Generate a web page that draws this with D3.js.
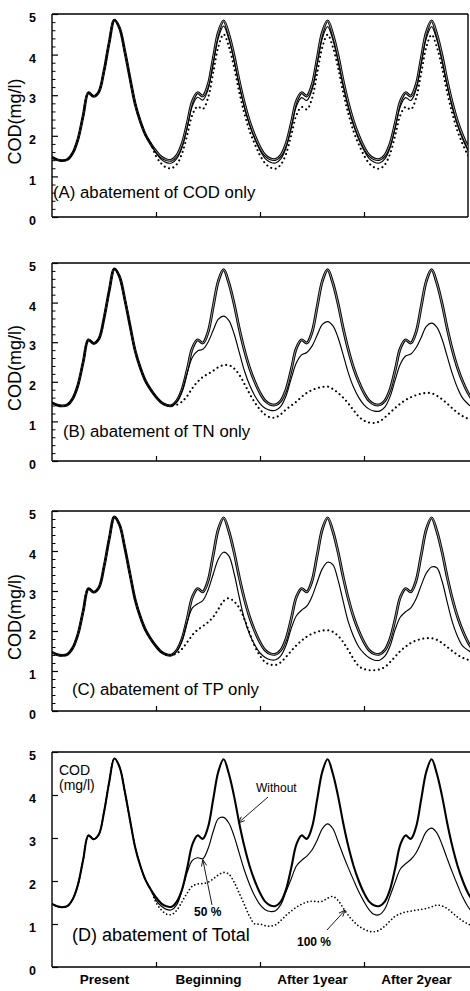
<!DOCTYPE html>
<html>
<head>
<meta charset="utf-8">
<script src="https://cdn.jsdelivr.net/npm/d3@7"></script>
<style>
  body { margin: 0; background: #fff; }
  svg { display: block; }
  text { font-family: Arial, "Liberation Sans", Helvetica, sans-serif; fill: #000; }
</style>
</head>
<body>
<svg id="chart" width="470" height="991"></svg>
<script>
// ---- data -------------------------------------------------------------
// Samples every 0.05 year, from the present year through two years after
// the start of abatement (COD in mg/l).
const periods = ["Present", "Beginning", "After 1year", "After 2year"];
const yTicks = [0, 1, 2, 3, 4, 5];
const step = 0.05;

// COD without abatement (same in every panel)
const without = [
  1.47,1.41,1.39,1.42,1.58,1.92,2.50,3.06,2.97,3.08,3.60,4.30,4.85,4.65,4.08,3.42,2.78,2.35,2.02,1.80,
  1.62,1.48,1.41,1.40,1.52,1.80,2.30,2.85,3.06,2.98,3.25,3.90,4.55,4.83,4.50,3.98,3.35,2.80,2.35,2.00,
  1.72,1.52,1.43,1.42,1.52,1.80,2.30,2.85,3.06,2.98,3.25,3.90,4.55,4.83,4.50,3.98,3.35,2.80,2.35,2.00,
  1.72,1.52,1.43,1.42,1.52,1.80,2.30,2.85,3.06,2.98,3.25,3.90,4.55,4.83,4.50,3.98,3.35,2.80,2.35,2.00,
  1.72,1.52
];
// During the present year every scenario follows the unabated curve.
const presentYear = without.slice(0, 20);

// (A) abatement of COD only
const codHalf = presentYear.concat([
  1.58,1.42,1.34,1.33,1.44,1.71,2.20,2.74,2.95,2.88,3.14,3.78,4.42,4.70,4.38,3.86,3.24,2.70,2.26,1.92,
  1.64,1.44,1.35,1.33,1.43,1.70,2.19,2.73,2.94,2.87,3.13,3.77,4.41,4.69,4.37,3.85,3.23,2.69,2.25,1.91,
  1.64,1.44,1.35,1.33,1.43,1.70,2.19,2.73,2.94,2.87,3.13,3.77,4.41,4.69,4.37,3.85,3.23,2.69,2.25,1.91,
  1.64,1.44
]);
const codFull = presentYear.concat([
  1.50,1.32,1.22,1.20,1.30,1.56,2.02,2.52,2.72,2.66,2.93,3.56,4.20,4.50,4.20,3.70,3.08,2.55,2.12,1.80,
  1.52,1.32,1.22,1.19,1.29,1.55,2.01,2.51,2.71,2.65,2.92,3.55,4.19,4.49,4.19,3.69,3.07,2.54,2.11,1.79,
  1.52,1.32,1.22,1.19,1.29,1.55,2.01,2.51,2.71,2.65,2.92,3.55,4.19,4.49,4.19,3.69,3.07,2.54,2.11,1.79,
  1.52,1.32
]);

// (B) abatement of TN only
const tnHalf = presentYear.concat([
  1.62,1.48,1.41,1.40,1.50,1.76,2.22,2.62,2.78,2.82,3.00,3.30,3.58,3.66,3.55,3.22,2.75,2.28,1.92,1.65,
  1.45,1.33,1.28,1.28,1.38,1.64,2.08,2.48,2.68,2.74,2.90,3.18,3.45,3.52,3.42,3.12,2.68,2.22,1.86,1.60,
  1.42,1.31,1.26,1.26,1.36,1.62,2.05,2.45,2.65,2.70,2.86,3.12,3.40,3.48,3.38,3.08,2.64,2.20,1.84,1.58,
  1.44,1.34
]);
const tnFull = presentYear.concat([
  1.62,1.48,1.41,1.40,1.42,1.50,1.64,1.84,2.00,2.12,2.20,2.28,2.37,2.42,2.42,2.34,2.18,1.95,1.70,1.48,
  1.30,1.17,1.10,1.10,1.18,1.30,1.40,1.50,1.62,1.72,1.79,1.84,1.87,1.88,1.82,1.72,1.60,1.45,1.28,1.12,
  1.02,0.97,0.96,1.00,1.10,1.22,1.34,1.45,1.54,1.61,1.66,1.70,1.72,1.71,1.65,1.56,1.45,1.33,1.22,1.13,
  1.07,1.03
]);

// (C) abatement of TP only
const tpHalf = presentYear.concat([
  1.62,1.48,1.41,1.40,1.50,1.76,2.22,2.58,2.68,2.76,3.02,3.42,3.80,3.97,3.88,3.45,2.85,2.30,1.92,1.65,
  1.45,1.34,1.28,1.28,1.38,1.64,2.06,2.38,2.52,2.62,2.86,3.22,3.56,3.72,3.66,3.28,2.74,2.22,1.86,1.60,
  1.44,1.33,1.27,1.27,1.37,1.62,2.04,2.35,2.48,2.58,2.80,3.14,3.45,3.60,3.58,3.25,2.72,2.22,1.86,1.62,
  1.52,1.44
]);
const tpFull = presentYear.concat([
  1.62,1.48,1.41,1.40,1.44,1.55,1.72,1.90,2.03,2.12,2.22,2.35,2.55,2.75,2.82,2.74,2.58,2.30,1.95,1.62,
  1.38,1.22,1.16,1.15,1.22,1.35,1.50,1.64,1.76,1.86,1.93,1.98,2.01,2.02,1.98,1.88,1.72,1.52,1.30,1.12,
  1.05,1.02,1.02,1.04,1.10,1.22,1.36,1.50,1.61,1.70,1.76,1.80,1.82,1.82,1.78,1.70,1.60,1.50,1.40,1.33,
  1.28,1.24
]);

// (D) abatement of Total
const totHalf = presentYear.concat([
  1.55,1.42,1.34,1.33,1.45,1.78,2.20,2.48,2.54,2.52,2.75,3.15,3.45,3.48,3.35,3.05,2.65,2.25,1.92,1.65,
  1.45,1.33,1.29,1.31,1.45,1.75,2.05,2.35,2.48,2.58,2.72,2.95,3.22,3.33,3.22,2.92,2.60,2.30,2.02,1.75,
  1.52,1.33,1.22,1.22,1.35,1.65,1.98,2.28,2.40,2.50,2.65,2.90,3.15,3.23,3.12,2.85,2.52,2.20,1.90,1.62,
  1.40,1.25
]);
const totFull = presentYear.concat([
  1.50,1.33,1.23,1.22,1.32,1.52,1.72,1.88,1.93,1.94,1.97,2.05,2.14,2.20,2.16,1.98,1.72,1.45,1.18,1.00,
  1.00,0.96,0.95,0.98,1.08,1.20,1.30,1.39,1.46,1.51,1.53,1.52,1.53,1.60,1.64,1.55,1.37,1.20,1.06,0.95,
  0.88,0.83,0.82,0.86,0.95,1.07,1.18,1.24,1.28,1.30,1.32,1.34,1.36,1.40,1.44,1.42,1.36,1.26,1.16,1.07,
  1.00,0.95
]);

// ---- layout -----------------------------------------------------------
const panels = [
  { top: 14,  bottom: 217, title: "(A) abatement of COD only", tx: 53, ty: 198, fs: 16.8, half: codHalf, full: codFull, minor: true,  right: 468, hollow: true },
  { top: 263, bottom: 461, title: "(B) abatement of TN only",  tx: 63, ty: 437, fs: 16.8, half: tnHalf,  full: tnFull,  minor: true,  right: 472, hollow: true },
  { top: 511, bottom: 711, title: "(C) abatement of TP only",  tx: 72, ty: 695, fs: 16.8, half: tpHalf,  full: tpFull,  minor: true,  right: 472, hollow: true },
  { top: 752, bottom: 967, title: "(D) abatement of Total",    tx: 72, ty: 941, fs: 18,   half: totHalf, full: totFull, minor: false, right: 472, hollow: false }
];

const svg = d3.select("#chart");
const x = d3.scaleLinear().domain([0, 4]).range([52, 468]);
const tAt = i => i * step;

panels.forEach((p, pi) => {
  const y = d3.scaleLinear().domain([0, 5]).range([p.bottom, p.top]);
  const g = svg.append("g");

  const clipId = "plot-clip-" + pi;
  svg.append("clipPath").attr("id", clipId)
    .append("rect")
    .attr("x", 52).attr("y", p.top - 12)
    .attr("width", p.right - 52).attr("height", p.bottom - p.top + 12);

  // frame
  const frame = g.append("g").attr("stroke", "#000").attr("stroke-width", 1.4);
  frame.append("line").attr("x1", 52).attr("x2", p.right).attr("y1", p.top).attr("y2", p.top);
  frame.append("line").attr("x1", 52).attr("x2", p.right).attr("y1", p.bottom).attr("y2", p.bottom);
  frame.append("line").attr("x1", 52).attr("x2", 52).attr("y1", p.top).attr("y2", p.bottom);
  if (p.right < 470) frame.append("line").attr("x1", p.right).attr("x2", p.right).attr("y1", p.top).attr("y2", p.bottom);

  // y axis: inward ticks, bold labels
  const yAxis = g.append("g").attr("transform", "translate(52,0)")
    .call(d3.axisLeft(y).tickValues(yTicks).tickSize(-6).tickPadding(16).tickFormat(d3.format("d")));
  yAxis.select(".domain").remove();
  yAxis.selectAll(".tick line").attr("stroke", "#000").attr("stroke-width", 1.2);
  yAxis.selectAll(".tick text")
    .attr("font-size", 12.5).attr("font-weight", "bold")
    .attr("font-family", "Arial, 'Liberation Sans', sans-serif")
    .attr("dy", "0.62em");

  if (p.minor) {
    const minorAxis = g.append("g").attr("transform", "translate(52,0)")
      .call(d3.axisLeft(y).tickValues(d3.range(1, 25).filter(i => i % 5 !== 0).map(i => i / 5))
        .tickSize(-3.5).tickFormat(""));
    minorAxis.select(".domain").remove();
    minorAxis.selectAll(".tick line").attr("stroke", "#000").attr("stroke-width", 1);
  }

  // x axis: period boundaries
  const xAxis = g.append("g").attr("transform", `translate(0,${p.bottom})`)
    .call(d3.axisBottom(x).tickValues([1, 2, 3]).tickSize(-5).tickFormat(""));
  xAxis.select(".domain").remove();
  xAxis.selectAll(".tick line").attr("stroke", "#000").attr("stroke-width", 1.2);

  // y title
  if (p.hollow) {
    g.append("text")
      .attr("transform", `translate(21,${(p.top + p.bottom) / 2 + 6}) rotate(-90)`)
      .attr("text-anchor", "middle")
      .attr("font-size", 18)
      .text("COD(mg/l)");
  } else {
    g.append("text").attr("x", 59).attr("y", 775).attr("font-size", 14).text("COD");
    g.append("text").attr("x", 59).attr("y", 790).attr("font-size", 14).text("(mg/l)");
  }

  // panel caption
  g.append("text").attr("x", p.tx).attr("y", p.ty).attr("font-size", p.fs).text(p.title);

  // curves
  const line = d3.line()
    .x((d, i) => x(tAt(i)))
    .y(d => y(d))
    .curve(d3.curveCatmullRom.alpha(0.5));

  const plot = g.append("g").attr("clip-path", `url(#${clipId})`).attr("fill", "none");

  if (p.hollow) {
    plot.append("path").attr("d", line(without)).attr("stroke", "#000").attr("stroke-width", 2.8);
    plot.append("path").attr("d", line(without)).attr("stroke", "#fff").attr("stroke-width", 0.6);
  } else {
    plot.append("path").attr("d", line(without)).attr("stroke", "#000").attr("stroke-width", 2.1);
  }
  plot.append("path").attr("d", line(p.full))
    .attr("stroke", "#000")
    .attr("stroke-width", p.hollow ? 2.1 : 1.7)
    .attr("stroke-linecap", "round")
    .attr("stroke-dasharray", p.hollow ? "0.01 4.6" : "0.01 3.6");
  plot.append("path").attr("d", line(p.half)).attr("stroke", "#000").attr("stroke-width", 1.15);

  // period labels and callouts on the last panel
  if (!p.hollow) {
    const xl = g.append("g").attr("transform", `translate(0,${p.bottom})`)
      .call(d3.axisBottom(x).tickValues([0.5, 1.5, 2.5, 3.5]).tickSize(0).tickPadding(7)
        .tickFormat((d, i) => periods[i]));
    xl.select(".domain").remove();
    xl.selectAll(".tick text")
      .attr("font-size", 13.5).attr("font-weight", "bold")
      .attr("font-family", "Arial, 'Liberation Sans', sans-serif");

    const arrow = (x1, y1, x2, y2) => {
      const a = Math.atan2(y2 - y1, x2 - x1);
      const L = 7, w = 0.38;
      const path = d3.path();
      path.moveTo(x1, y1); path.lineTo(x2, y2);
      path.moveTo(x2 - L * Math.cos(a - w), y2 - L * Math.sin(a - w));
      path.lineTo(x2, y2);
      path.lineTo(x2 - L * Math.cos(a + w), y2 - L * Math.sin(a + w));
      g.append("path").attr("d", path.toString()).attr("fill", "none")
        .attr("stroke", "#000").attr("stroke-width", 0.9);
    };

    // "Without" points at the falling limb after the first abatement peak
    const iW = 36;
    g.append("text").attr("x", 256).attr("y", 792).attr("font-size", 12).text("Without");
    arrow(268, 797, x(tAt(iW)) - 1, y(without[iW]));

    // "50 %" points at the plateau of the half-abatement curve
    const iH = 29;
    g.append("text").attr("x", 194).attr("y", 916).attr("font-size", 12).attr("font-weight", "bold").text("50 %");
    arrow(212, 905, x(tAt(iH)), y(p.half[iH]) + 1);

    // "100 %" points at the full-abatement curve
    const iF = 56;
    g.append("text").attr("x", 297).attr("y", 946).attr("font-size", 12).attr("font-weight", "bold").text("100 %");
    arrow(327, 930, x(tAt(iF)) + 2, y(p.full[iF]) + 2);
  }
});
</script>
</body>
</html>
